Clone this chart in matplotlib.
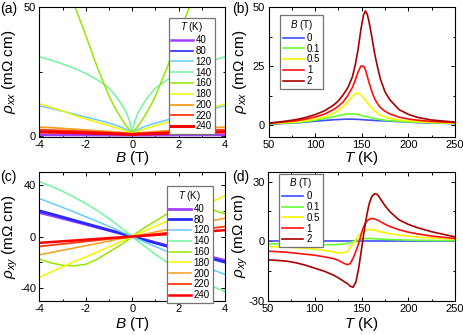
import matplotlib
matplotlib.use("Agg")
import matplotlib.pyplot as plt
from matplotlib.ticker import MultipleLocator

plt.rcParams['font.family'] = ['Liberation Sans', 'DejaVu Sans']
plt.rcParams['mathtext.fontset'] = 'custom'
plt.rcParams['mathtext.rm'] = 'Liberation Sans'
plt.rcParams['mathtext.it'] = 'Liberation Sans:italic'
plt.rcParams['axes.unicode_minus'] = False

# ---- data ----
temps = ['40', '80', '120', '140', '160', '180', '200', '220', '240']
fields = ['0', '0.1', '0.5', '1', '2']

B_grid = [-4, -3.5, -3, -2.5, -2, -1.5, -1, -0.75, -0.5, -0.25, -0.1, 0,
          0.1, 0.25, 0.5, 0.75, 1, 1.5, 2, 2.5, 3, 3.5, 4]

# (a) rho_xx vs B
rxx_40 = [0.35, 0.34, 0.33, 0.32, 0.3, 0.28, 0.26, 0.25, 0.24, 0.22, 0.21, 0.2,
          0.21, 0.22, 0.24, 0.25, 0.26, 0.28, 0.3, 0.32, 0.33, 0.34, 0.35]
rxx_80 = [2.0, 1.9, 1.8, 1.7, 1.55, 1.4, 1.2, 1.1, 1.0, 0.9, 0.85, 0.8,
          0.85, 0.9, 1.0, 1.1, 1.2, 1.4, 1.55, 1.7, 1.8, 1.9, 2.0]
rxx_120 = [11.7, 10.7, 9.6, 8.5, 7.3, 6.2, 5.0, 4.3, 3.5, 2.5, 1.8, 1.2,
           1.8, 2.5, 3.5, 4.3, 5.0, 6.2, 7.3, 8.5, 9.6, 10.7, 11.7]
rxx_140 = [30.8, 29.5, 28.0, 26.3, 24.3, 21.8, 18.6, 16.0, 12.8, 9.0, 5.5, 1.4,
           5.5, 9.0, 12.8, 16.0, 18.6, 21.8, 24.3, 26.3, 28.0, 29.5, 30.8]
rxx_160 = [90, 78, 65, 51, 39, 26.5, 15.5, 11.0, 7.2, 3.8, 2.2, 1.5,
           2.2, 3.8, 7.2, 11.0, 15.5, 26.5, 39, 51, 65, 78, 90]
rxx_180 = [12.5, 11.1, 9.7, 8.0, 6.6, 5.3, 4.0, 3.3, 2.6, 1.8, 1.3, 1.0,
           1.3, 1.8, 2.6, 3.3, 4.0, 5.3, 6.6, 8.0, 9.7, 11.1, 12.5]
rxx_200 = [3.4, 3.2, 2.9, 2.6, 2.3, 2.0, 1.7, 1.5, 1.3, 1.1, 0.95, 0.9,
           0.95, 1.1, 1.3, 1.5, 1.7, 2.0, 2.3, 2.6, 2.9, 3.2, 3.4]
rxx_220 = [2.4, 2.25, 2.1, 1.9, 1.7, 1.5, 1.25, 1.1, 1.0, 0.85, 0.75, 0.7,
           0.75, 0.85, 1.0, 1.1, 1.25, 1.5, 1.7, 1.9, 2.1, 2.25, 2.4]
rxx_240 = [1.5, 1.45, 1.35, 1.25, 1.15, 1.0, 0.9, 0.8, 0.75, 0.65, 0.6, 0.55,
           0.6, 0.65, 0.75, 0.8, 0.9, 1.0, 1.15, 1.25, 1.35, 1.45, 1.5]

# (c) rho_xy vs B
rxy_40 = [18.5, 16.3, 14.0, 11.7, 9.4, 7.0, 4.7, 3.5, 2.35, 1.2, 0.45, 0,
          -0.45, -1.2, -2.35, -3.5, -4.7, -7.0, -9.4, -11.7, -14.0, -16.3, -18.5]
rxy_80 = [19.9, 17.5, 15.0, 12.5, 10.0, 7.5, 5.0, 3.75, 2.5, 1.25, 0.5, 0,
          -0.5, -1.25, -2.5, -3.75, -5.0, -7.5, -10.0, -12.5, -15.0, -17.5, -19.9]
rxy_120 = [29.4, 26.0, 22.5, 19.0, 15.3, 11.6, 7.8, 5.9, 3.9, 2.0, 0.8, 0,
           -0.8, -2.0, -3.9, -5.9, -7.8, -11.6, -15.3, -19.0, -22.5, -26.0, -29.4]
rxy_140 = [42.5, 39.0, 35.0, 30.5, 25.5, 20.0, 13.8, 10.5, 7.1, 3.6, 1.45, 0,
           -1.45, -3.6, -7.1, -10.5, -13.8, -20.0, -25.5, -30.5, -35.0, -39.0, -42.5]
rxy_160 = [-17.5, -20.5, -22.3, -22.7, -21.5, -17.5, -12.0, -9.3, -6.5, -3.4, -1.4, 0,
           1.4, 3.4, 6.5, 9.3, 12.0, 17.5, 21.5, 22.7, 22.3, 20.5, 17.5]
rxy_180 = [-31.7, -27.5, -23.5, -19.5, -15.8, -12.0, -8.0, -6.0, -4.0, -2.0, -0.8, 0,
           0.8, 2.0, 4.0, 6.0, 8.0, 12.0, 15.8, 19.5, 23.5, 27.5, 31.7]
rxy_200 = [-14.2, -12.4, -10.6, -8.9, -7.1, -5.3, -3.5, -2.6, -1.75, -0.9, -0.35, 0,
           0.35, 0.9, 1.75, 2.6, 3.5, 5.3, 7.1, 8.9, 10.6, 12.4, 14.2]
rxy_220 = [-7.7, -6.7, -5.8, -4.8, -3.85, -2.9, -1.9, -1.45, -0.95, -0.5, -0.2, 0,
           0.2, 0.5, 0.95, 1.45, 1.9, 2.9, 3.85, 4.8, 5.8, 6.7, 7.7]
rxy_240 = [-4.9, -4.3, -3.7, -3.1, -2.45, -1.85, -1.2, -0.9, -0.6, -0.3, -0.12, 0,
           0.12, 0.3, 0.6, 0.9, 1.2, 1.85, 2.45, 3.1, 3.7, 4.3, 4.9]

# (b) rho_xx vs T
T_b = [50, 60, 70, 80, 90, 100, 110, 120, 125, 130, 135, 140, 143, 146, 149,
       152, 154, 156, 158, 161, 164, 167, 170, 175, 180, 190, 200, 210, 225, 250]
rxxT_0 = [0.3, 0.5, 0.7, 0.9, 1.2, 1.6, 1.9, 2.2, 2.3, 2.4, 2.45, 2.45, 2.4, 2.35, 2.3,
          2.2, 2.15, 2.1, 2.05, 2.0, 1.9, 1.85, 1.8, 1.7, 1.6, 1.4, 1.2, 1.0, 0.8, 0.6]
rxxT_01 = [0.4, 0.6, 0.8, 1.0, 1.4, 2.0, 2.7, 3.5, 4.0, 4.4, 4.7, 4.7, 4.6, 4.4, 4.1,
           3.8, 3.6, 3.4, 3.2, 2.9, 2.7, 2.5, 2.3, 2.0, 1.8, 1.5, 1.3, 1.1, 0.9, 0.7]
rxxT_05 = [0.5, 0.8, 1.0, 1.3, 1.8, 2.5, 3.4, 5.0, 6.2, 7.8, 9.8, 12.2, 13.3, 13.5, 12.8,
           11.5, 10.5, 9.4, 8.5, 7.0, 5.9, 4.9, 4.2, 3.4, 2.8, 2.1, 1.7, 1.4, 1.1, 0.8]
rxxT_1 = [0.7, 1.0, 1.4, 1.8, 2.5, 3.4, 4.6, 6.6, 8.0, 9.8, 12.5, 16.0, 19.0, 22.5, 25.0,
          25.0, 23.5, 20.5, 17.8, 14.0, 11.0, 9.0, 7.4, 5.8, 4.7, 3.3, 2.5, 2.0, 1.5, 1.0]
rxxT_2 = [0.8, 1.2, 1.7, 2.3, 3.2, 4.4, 6.0, 8.5, 10.3, 12.8, 15.8, 20.5, 25.5, 32.0, 40.5,
          47.0, 48.5, 47.0, 43.5, 37.0, 30.0, 24.5, 19.5, 14.0, 10.8, 6.5, 4.5, 3.2, 2.1, 1.2]

# (d) rho_xy vs T
T_d = [50, 60, 70, 80, 90, 100, 110, 120, 125, 130, 135, 138, 141, 144, 147, 150,
       152, 154, 156, 158, 161, 164, 167, 170, 175, 180, 190, 200, 210, 225, 250]
rxyT_0 = [0] * len(T_d)
rxyT_01 = [-1.3, -1.35, -1.4, -1.45, -1.5, -1.6, -1.7, -1.7, -1.6, -1.4, -1.0, -0.6, -0.2,
           0.3, 0.8, 1.1, 1.3, 1.4, 1.4, 1.4, 1.35, 1.3, 1.2, 1.1, 1.0, 0.9, 0.75, 0.6,
           0.5, 0.4, 0.3]
rxyT_05 = [-2.7, -2.8, -3.0, -3.2, -3.5, -3.9, -4.5, -5.3, -5.8, -5.8, -5.0, -3.0, -1.3,
           0.8, 3.0, 4.4, 5.0, 5.5, 5.8, 5.9, 5.8, 5.6, 5.3, 4.8, 4.3, 3.8, 3.1, 2.6,
           2.1, 1.6, 1.0]
rxyT_1 = [-5.0, -5.2, -5.5, -6.0, -6.5, -7.0, -7.8, -8.7, -9.5, -10.8, -11.8, -11.2, -8.5,
          -5.0, -1.0, 4.0, 7.0, 9.0, 10.3, 11.0, 11.5, 11.2, 10.7, 9.9, 8.6, 7.5, 5.8, 4.6,
          3.7, 2.6, 1.4]
rxyT_2 = [-9.3, -9.6, -10.0, -10.8, -12.0, -13.5, -15.0, -17.0, -18.3, -19.8, -21.3, -22.6,
          -23.1, -20.5, -13.5, -4.0, 2.5, 8.5, 14.0, 18.5, 22.5, 23.9, 23.5, 21.5, 18.0,
          15.0, 10.8, 8.5, 6.8, 4.8, 2.2]

# ---- styling ----
temp_colors = ['#a040ff', '#2a2aff', '#66ccff', '#70f5a0', '#99e600',
               '#f5f500', '#ff9a1a', '#ff3a10', '#ff0000']
field_colors = ['#3d4dff', '#66ff33', '#f5f500', '#ff1010', '#a80000']
temp_lw_a = [1.8, 1.2, 1.1, 1.1, 1.1, 1.1, 1.3, 1.3, 2.2]
temp_lw_c = [2.0, 2.0, 1.1, 1.1, 1.1, 1.1, 1.1, 1.3, 1.8]

LABEL_FS = 11

fig = plt.figure(figsize=(4.63, 3.35), dpi=100)
ax_a = fig.add_axes([0.0853, 0.592, 0.4006, 0.3857])
ax_b = fig.add_axes([0.580, 0.592, 0.4027, 0.3857])
ax_c = fig.add_axes([0.0853, 0.1015, 0.4006, 0.385])
ax_d = fig.add_axes([0.5788, 0.1015, 0.404, 0.3862])


def style_axes(ax, xmaj, xmin, ymaj, ymin):
    ax.xaxis.set_major_locator(MultipleLocator(xmaj))
    ax.xaxis.set_minor_locator(MultipleLocator(xmin))
    ax.yaxis.set_major_locator(MultipleLocator(ymaj))
    ax.yaxis.set_minor_locator(MultipleLocator(ymin))
    ax.tick_params(which='both', direction='in', top=True, right=True,
                   labelsize=8, width=0.7, pad=2.5)
    ax.tick_params(which='major', length=3)
    ax.tick_params(which='minor', length=1.8)
    for sp in ax.spines.values():
        sp.set_linewidth(0.8)


def set_labels(ax, xlab, ylab, ylab_x, xlab_y):
    ax.set_xlabel(xlab, fontsize=LABEL_FS)
    ax.set_ylabel(ylab, fontsize=LABEL_FS)
    ax.xaxis.set_label_coords(0.5, xlab_y)
    ax.yaxis.set_label_coords(ylab_x, 0.5)


def add_legend(ax, title, **kw):
    leg = ax.legend(title=title, fontsize=7, title_fontsize=7, frameon=True,
                    fancybox=False, edgecolor='0.45', framealpha=1,
                    handlelength=2.2, handletextpad=0.3, labelspacing=0.08,
                    borderpad=0.3, borderaxespad=0, **kw)
    leg.get_frame().set_linewidth(0.9)
    return leg


# (a)
rxx_B = [rxx_40, rxx_80, rxx_120, rxx_140, rxx_160, rxx_180, rxx_200, rxx_220, rxx_240]
for vals, lab, col, lw in zip(rxx_B, temps, temp_colors, temp_lw_a):
    ax_a.plot(B_grid, vals, color=col, lw=lw, label=lab)
ax_a.set_xlim(-4, 4)
ax_a.set_ylim(-0.3, 50)
style_axes(ax_a, 2, 1, 50, 25)
set_labels(ax_a, '$B$ (T)', r'$\rho_{xx}$ (m$\Omega$ cm)', -0.115, -0.095)
add_legend(ax_a, '$T$ (K)', loc='upper right', bbox_to_anchor=(0.946, 0.922))

# (b)
rxx_T = [rxxT_0, rxxT_01, rxxT_05, rxxT_1, rxxT_2]
for vals, lab, col in zip(rxx_T, fields, field_colors):
    ax_b.plot(T_b, vals, color=col, lw=1.2, label=lab)
ax_b.set_xlim(50, 250)
ax_b.set_ylim(-5, 50)
style_axes(ax_b, 50, 25, 25, 12.5)
set_labels(ax_b, '$T$ (K)', r'$\rho_{xx}$ (m$\Omega$ cm)', -0.106, -0.095)
add_legend(ax_b, '$B$ (T)', loc='upper left', bbox_to_anchor=(0.06, 0.94))

# (c)
rxy_B = [rxy_40, rxy_80, rxy_120, rxy_140, rxy_160, rxy_180, rxy_200, rxy_220, rxy_240]
for vals, lab, col, lw in zip(rxy_B, temps, temp_colors, temp_lw_c):
    ax_c.plot(B_grid, vals, color=col, lw=lw, label=lab)
ax_c.set_xlim(-4, 4)
ax_c.set_ylim(-50, 50)
style_axes(ax_c, 2, 1, 40, 20)
set_labels(ax_c, '$B$ (T)', r'$\rho_{xy}$ (m$\Omega$ cm)', -0.104, -0.11)
add_legend(ax_c, '$T$ (K)', loc='upper right', bbox_to_anchor=(0.935, 0.89))

# (d)
rxy_T = [rxyT_0, rxyT_01, rxyT_05, rxyT_1, rxyT_2]
for vals, lab, col in zip(rxy_T, fields, field_colors):
    ax_d.plot(T_d, vals, color=col, lw=1.2, label=lab)
ax_d.set_xlim(50, 250)
ax_d.set_ylim(-30, 35)
style_axes(ax_d, 50, 25, 30, 15)
set_labels(ax_d, '$T$ (K)', r'$\rho_{xy}$ (m$\Omega$ cm)', -0.094, -0.11)
add_legend(ax_d, '$B$ (T)', loc='upper left', bbox_to_anchor=(0.059, 0.985))

for lab, x, y in [('(a)', 0.0, 0.973), ('(b)', 0.501, 0.973),
                  ('(c)', 0.0, 0.473), ('(d)', 0.501, 0.473)]:
    fig.text(x, y, lab, fontsize=10, ha='left', va='center')

fig.savefig('out.png', dpi=100)
